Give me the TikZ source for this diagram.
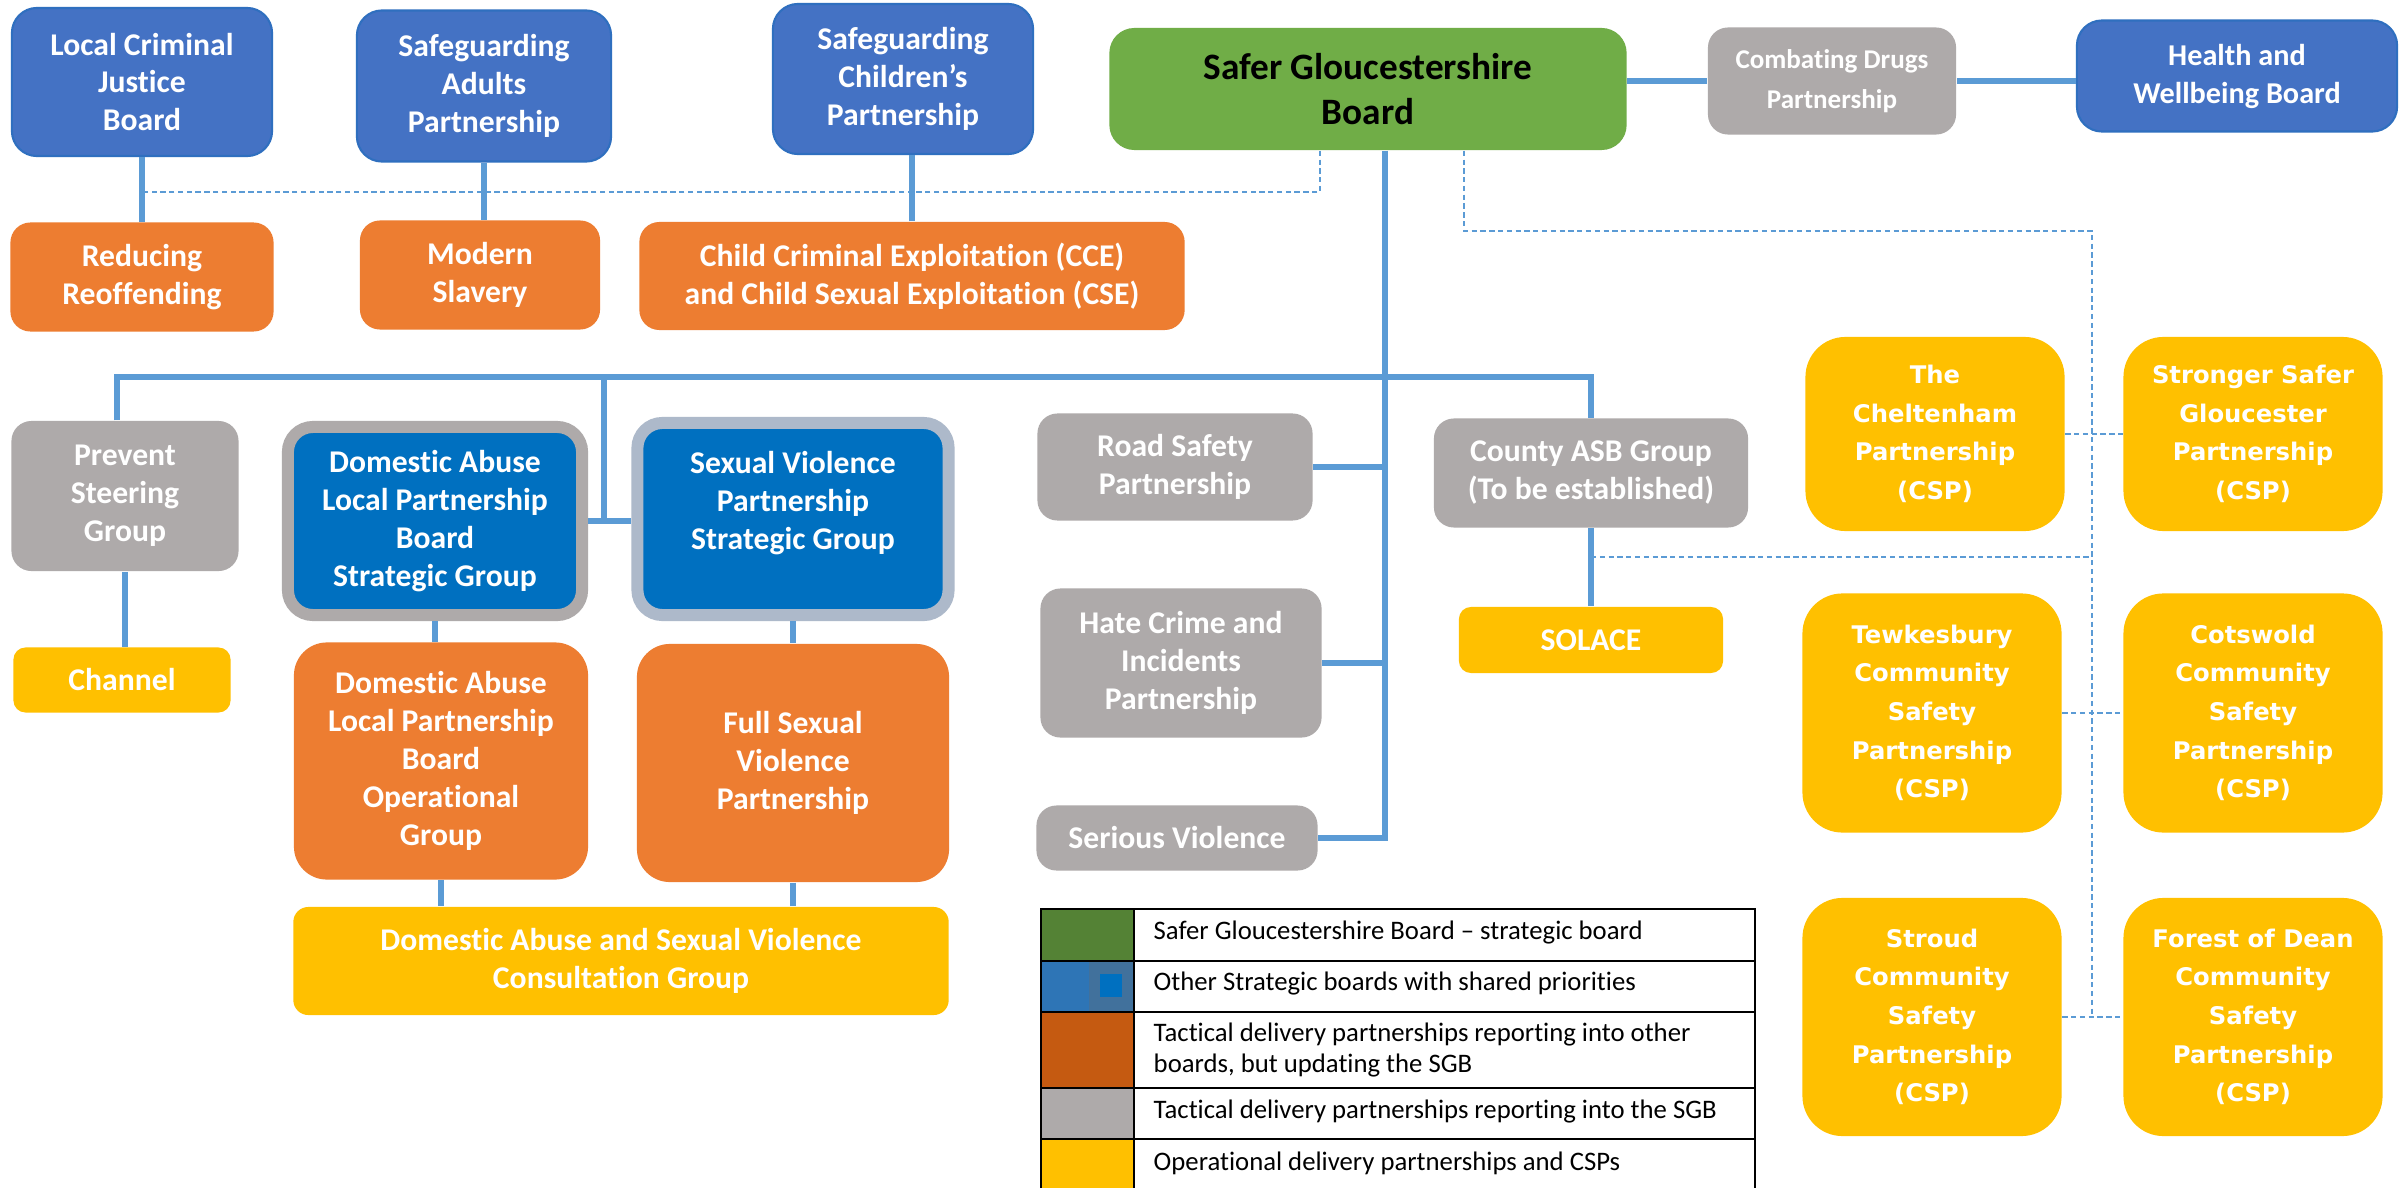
\documentclass[tikz,border=0pt]{standalone}
\usepackage{fontspec}
\setmainfont{Carlito}[Ligatures=NoCommon]
\newfontfamily\cspfam{DejaVu Sans}
\usepackage{tikz}

\definecolor{sgbgreen}{HTML}{70AD47}
\definecolor{boardblue}{HTML}{4472C4}
\definecolor{boardedge}{HTML}{2F6FBF}
\definecolor{strongblue}{HTML}{0070C0}
\definecolor{tacgrey}{HTML}{AEAAAA}
\definecolor{svedge}{HTML}{ADB9CA}
\definecolor{tacorange}{HTML}{ED7D31}
\definecolor{opyellow}{HTML}{FFC000}
\definecolor{linkblue}{HTML}{5B9BD5}
\definecolor{leggreen}{HTML}{548235}
\definecolor{legblue}{HTML}{2E75B6}
\definecolor{legsteel}{HTML}{41719C}
\definecolor{legorange}{HTML}{C55A11}

\begin{document}
\begin{tikzpicture}[x=0.01cm,y=-0.01cm]

\tikzstyle{vertex}=[rectangle,align=center,text=white,inner sep=2pt,font={\fontsize{9}{10.8}\selectfont\bfseries}]
\tikzstyle{board}=[vertex,fill=boardblue,draw=boardedge,line width=0.6pt,rounded corners=0.25cm]
\tikzstyle{sgbbox}=[vertex,fill=sgbgreen,text=black,rounded corners=0.25cm,font={\fontsize{10.6}{12.8}\selectfont\bfseries}]
\tikzstyle{tactical}=[vertex,fill=tacgrey,rounded corners=0.2cm]
\tikzstyle{reporting}=[vertex,fill=tacorange,rounded corners=0.2cm]
\tikzstyle{strategic}=[vertex,fill=strongblue,line width=0.12cm,rounded corners=0.25cm]
\tikzstyle{operational}=[vertex,fill=opyellow,rounded corners=0.12cm]
\tikzstyle{csp}=[vertex,fill=opyellow,rounded corners=0.4cm,minimum width=2.59cm,font={\cspfam\bfseries\fontsize{6.9}{11}\selectfont}]
\tikzstyle{link}=[draw=linkblue,line width=1.8pt]
\tikzstyle{dotlink}=[draw=linkblue,line width=0.5pt,dash pattern=on 1.5pt off 1pt]
\tikzstyle{legframe}=[draw=black,line width=0.8pt]
\tikzstyle{legtext}=[anchor=west,align=left,inner sep=0pt,font={\fontsize{7.6}{8.9}\selectfont}]

\fill[white] (0,0) rectangle (2400,1188);
\useasboundingbox (0,0) rectangle (2400,1188);

\node[board,minimum width=2.60cm,minimum height=1.48cm] (lcjb) at (142,82) {Local Criminal\\Justice\\Board};
\node[board,minimum width=2.54cm,minimum height=1.51cm] (sap) at (484,86) {Safeguarding\\Adults\\Partnership};
\node[board,minimum width=2.60cm,minimum height=1.50cm] (scp) at (903,79) {Safeguarding\\Children’s\\Partnership};
\node[sgbbox,minimum width=5.17cm,minimum height=1.22cm] (sgb) at (1368,89) {Safer Gloucestershire\\Board};
\node[tactical,minimum width=2.48cm,minimum height=1.07cm,font={\fontsize{7.7}{11.4}\selectfont\bfseries}] (drugs) at (1832,81) {Combating Drugs\\Partnership};
\node[board,minimum width=3.20cm,minimum height=1.11cm,font={\fontsize{8.6}{10.8}\selectfont\bfseries}] (hwb) at (2237,76) {Health and\\Wellbeing Board};

\node[reporting,minimum width=2.63cm,minimum height=1.09cm] (reoffend) at (142,277) {Reducing\\Reoffending};
\node[reporting,minimum width=2.40cm,minimum height=1.09cm] (slavery) at (480,275) {Modern\\Slavery};
\node[reporting,minimum width=5.45cm,minimum height=1.08cm] (cce) at (912,276) {Child Criminal Exploitation (CCE)\\and Child Sexual Exploitation (CSE)};

\node[tactical,minimum width=2.27cm,minimum height=1.50cm] (prevent) at (125,496) {Prevent\\Steering\\Group};
\node[strategic,draw=tacgrey,minimum width=2.94cm,minimum height=1.88cm] (dastrat) at (435,521) {Domestic Abuse\\Local Partnership\\Board\\Strategic Group};
\node[strategic,draw=svedge,minimum width=3.11cm,minimum height=1.92cm] (svstrat) at (793,519) {Sexual Violence\\Partnership\\Strategic Group\\\mbox{}};
\node[operational,minimum width=2.17cm,minimum height=0.65cm] (channel) at (122,680) {Channel};
\node[reporting,rounded corners=0.33cm,minimum width=2.94cm,minimum height=2.37cm] (daop) at (441,761) {Domestic Abuse\\Local Partnership\\Board\\Operational\\Group};
\node[reporting,rounded corners=0.33cm,minimum width=3.12cm,minimum height=2.38cm] (fullsv) at (793,763) {Full Sexual\\Violence\\Partnership};
\node[operational,rounded corners=0.15cm,minimum width=6.55cm,minimum height=1.08cm] (consult) at (621,961) {Domestic Abuse and Sexual Violence\\Consultation Group};

\node[tactical,minimum width=2.75cm,minimum height=1.07cm] (road) at (1175,467) {Road Safety\\Partnership};
\node[tactical,minimum width=2.81cm,minimum height=1.49cm] (hate) at (1181,663) {Hate Crime and\\Incidents\\Partnership};
\node[tactical,minimum width=2.81cm,minimum height=0.65cm] (serious) at (1177,838) {Serious Violence};
\node[tactical,minimum width=3.14cm,minimum height=1.09cm] (asb) at (1591,473) {County ASB Group\\(To be established)};
\node[operational,minimum width=2.64cm,minimum height=0.66cm] (solace) at (1591,640) {SOLACE};

\node[csp,minimum height=1.94cm] (chelt) at (1935,434) {The\\Cheltenham\\Partnership\\(CSP)};
\node[csp,minimum height=1.94cm] (glos) at (2253,434) {Stronger Safer\\Gloucester\\Partnership\\(CSP)};
\node[csp,minimum height=2.39cm] (tewk) at (1932,713) {Tewkesbury\\Community\\Safety\\Partnership\\(CSP)};
\node[csp,minimum height=2.39cm] (cots) at (2253,713) {Cotswold\\Community\\Safety\\Partnership\\(CSP)};
\node[csp,minimum height=2.38cm] (stroud) at (1932,1017) {Stroud\\Community\\Safety\\Partnership\\(CSP)};
\node[csp,minimum height=2.38cm] (fod) at (2253,1017) {Forest of Dean\\Community\\Safety\\Partnership\\(CSP)};

\coordinate (trunk) at (1385,0);
\coordinate (busl) at (117,377);
\coordinate (busr) at (1591,377);
\coordinate (dasv) at (604,0);
\coordinate (dotl) at (1320,192);
\coordinate (dotm) at (1464,231);
\coordinate (dotr) at (2092,231);
\coordinate (asbdot) at (1591,557);

\draw[link] (lcjb) -- (reoffend);
\draw[link] (sap.south) -- (sap.south |- slavery.north);
\draw[link] (cce.north) -- (cce.north |- scp.south);
\draw[link] (sgb.east |- drugs.west) -- (drugs.west);
\draw[link] (drugs.east) -- (drugs.east -| hwb.west);
\draw[link] (sgb.south -| trunk) -- (serious.east -| trunk) -- (serious.east);
\draw[link] (road.east) -- (road.east -| trunk);
\draw[link] (hate.east) -- (hate.east -| trunk);
\draw[link] (prevent.north -| busl) -- (busl) -- (busr) -- (asb.north);
\draw[link] (dasv |- busl) -- (dasv |- dastrat.east);
\draw[link] (dastrat.east) -- (dastrat.east -| svstrat.west);
\draw[link] (prevent.south) -- (prevent.south |- channel.north);
\draw[link] (dastrat.south) -- (dastrat.south |- daop.north);
\draw[link] (svstrat.south) -- (svstrat.south |- fullsv.north);
\draw[link] (daop.south) -- (daop.south |- consult.north);
\draw[link] (fullsv.south) -- (fullsv.south |- consult.north);
\draw[link] (asb) -- (solace);

\draw[dotlink] (sgb.south -| dotl) -- (dotl) -- (dotl -| lcjb.south);
\draw[dotlink] (sgb.south -| dotm) -- (dotm) -- (dotr) -- (dotr |- stroud.east);
\draw[dotlink] (asbdot) -- (asbdot -| dotr);
\draw[dotlink] (chelt.east) -- (chelt.east -| glos.west);
\draw[dotlink] (tewk.east) -- (tewk.east -| cots.west);
\draw[dotlink] (stroud.east) -- (stroud.east -| fod.west);

\fill[leggreen] (1041,909) rectangle (1134,961);
\fill[legblue] (1041,961) rectangle (1089,1012);
\fill[legsteel] (1089,961) rectangle (1134,1012);
\fill[strongblue] (1100,974) rectangle (1122,997);
\fill[legorange] (1041,1012) rectangle (1134,1088);
\fill[tacgrey] (1041,1088) rectangle (1134,1139);
\fill[opyellow] (1041,1139) rectangle (1134,1195);
\draw[legframe] (1041,909) rectangle (1755,1195);
\draw[legframe] (1134,909) -- (1134,1195);
\draw[legframe] (1041,961) -- (1755,961);
\draw[legframe] (1041,1012) -- (1755,1012);
\draw[legframe] (1041,1088) -- (1755,1088);
\draw[legframe] (1041,1139) -- (1755,1139);
\node[legtext] (leg1) at (1153,933) {Safer Gloucestershire Board – strategic board};
\node[legtext] (leg2) at (1153,984) {Other Strategic boards with shared priorities};
\node[legtext] (leg3) at (1153,1050) {Tactical delivery partnerships reporting into other\\boards, but updating the SGB};
\node[legtext] (leg4) at (1153,1112) {Tactical delivery partnerships reporting into the SGB};
\node[legtext] (leg5) at (1153,1163) {Operational delivery partnerships and CSPs};
\end{tikzpicture}
\end{document}
